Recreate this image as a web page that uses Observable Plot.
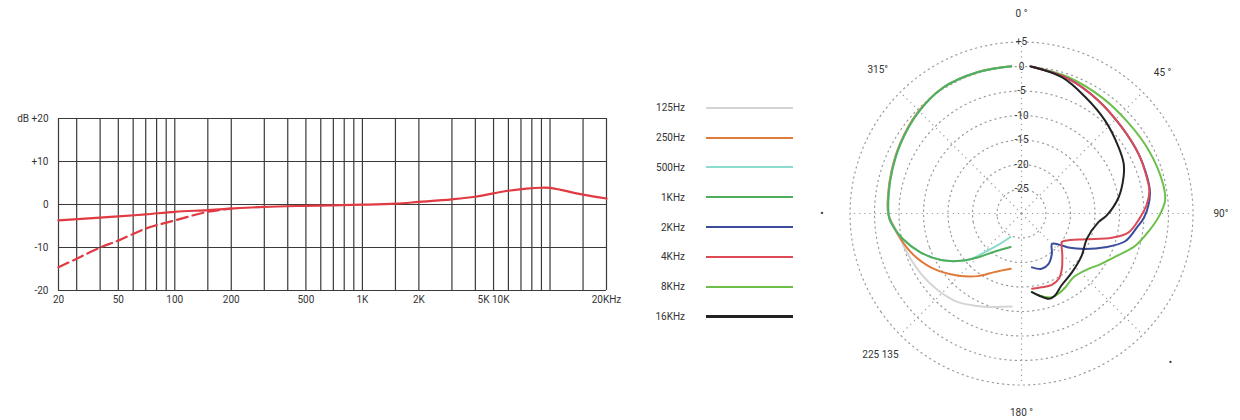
<!DOCTYPE html>
<html><head><meta charset="utf-8">
<script src="https://cdn.jsdelivr.net/npm/d3@7"></script>
<script src="https://cdn.jsdelivr.net/npm/@observablehq/plot@0.6"></script>
<style>
body{margin:0;background:#fff;}
#wrap{position:relative;width:1240px;height:420px;overflow:hidden;font-family:Roboto,sans-serif;background:#fff;}
#left{position:absolute;left:0;top:0;}
#legend{position:absolute;left:630px;top:93px;}
.row{display:flex;align-items:center;height:29.8px;}
.lab{width:55px;text-align:right;font-size:10px;color:#333;}
.sw{margin-left:21px;width:87px;}
#polar{position:absolute;left:814px;top:0;}
</style></head><body>
<div id="wrap"><div id="left"></div><div id="legend"></div><div id="polar"></div></div>
<script>
// ---------- Frequency response chart ----------
const freqTickValues = [24, 50, 100, 200, 500, 1000, 2000, 5000, 20000];
const freqTickLabels = ["20","50","100","200","500","1K","2K","5K 10K","20KHz"];
const freqGrid = [24,30,40,50,60,70,80,90,100,150,200,300,400,500,600,700,800,900,1000,1500,2000,3000,4000,5000,6000,7000,8000,9000,10000,15000,20000];
const dbTickValues = [20,10,0,-10,-20];
const dbTickLabels = ["dB +20","+10","0","-10","-20"];
const solidFreq = [24,40,50,70,100,150,200,300,500,1000,1500,2000,3000,4000,5000,6000,7500,9000,10000,11400,15000,20000];
const solidDb = [-3.7,-3.05,-2.75,-2.3,-1.7,-1.3,-0.95,-0.55,-0.3,-0.05,0.2,0.6,1.2,1.8,2.6,3.2,3.7,3.9,3.85,3.4,2.3,1.4];
const dashedFreq = [24,30,40,50,70,100,150,200];
const dashedDb = [-14.6,-12.6,-10,-8.4,-5.6,-3.7,-1.7,-0.95];

// ---------- Polar pattern ----------
const seriesNames = ["125Hz","250Hz","500Hz","1KHz","2KHz","4KHz","8KHz","16KHz"];
const seriesColors = ["#d4d4d4","#e07a3a","#8adccc","#4fae5c","#3b4c9c","#dc4b55","#6cc04a","#222222"];
const legendWidths = [1.3,2.2,2,2,2.2,1.3,2.2,2.4];

const a125 = [356,343,328,314,300,288,278,269,262,250,239,228,216,202,186];
const d125 = [0.1,0.2,0.25,-0.5,-1.5,-2.2,-2.6,-3.0,-4.3,-5.4,-6.1,-6.8,-7.7,-9.5,-10.9];
const a250 = [356,343,328,314,300,288,278,270,261,249,238,226,215,205,191];
const d250 = [0.1,0.2,0.25,-0.45,-1.4,-2.1,-2.5,-2.8,-4.3,-6.4,-8.8,-11.8,-14.4,-16.8,-18.5];
const a500 = [356,343,328,314,300,288,278,269,266,258,249,240,232,228,221,215,205];
const d500 = [0.14,0.2,0.27,-0.55,-1.5,-2.2,-2.6,-2.9,-3.3,-5.2,-7.9,-11,-14.3,-16.1,-20.4,-22.5,-24.7];
const a1k = [356,343,328,314,300,288,278,269,266,258,249,240,232,225,216,198];
const d1k = [0.14,0.2,0.27,-0.55,-1.5,-2.2,-2.6,-2.9,-3.3,-5.2,-7.9,-11,-14.3,-17.3,-20.3,-22.8];
const a2k = [4,19,34,49,63,74,80,86,92,97,105,112,119,126,130,135,143,152,160,169];
const d2k = [0,-0.9,-2.1,-3.0,-3.2,-3.3,-3.4,-4.0,-5.0,-6.3,-8.1,-11.6,-15.1,-18.2,-20.2,-21.2,-19.7,-18.3,-18,-18.8];
const a4k = [4,19,34,49,63,74,80,86,92,100,105,112,122,125,136,144,150,157,165,172];
const d4k = [0,-0.9,-2.1,-3.0,-3.2,-3.4,-3.5,-4.4,-5.8,-7.8,-10.9,-16,-19.5,-19.9,-18,-16,-14.7,-14.2,-14.4,-14.5];
const a8k = [4,19,35,50,64,78,85,91,98,106,113,122,132,141,149,155,160,168,172.5];
const d8k = [0,-0.6,-1.2,-1.4,-1.0,-0.5,-0.6,-1.9,-3.8,-5.9,-8.4,-10.7,-12.6,-13.2,-12.5,-12,-11.8,-12.9,-13.9];
const a16k = [3.4,16.5,28.7,42,55.6,64,70.4,80.5,91.3,96.4,111,125,139,151,158,162,168,172.5];
const d16k = [0.1,-1,-2.9,-4.5,-6.0,-6.8,-7.9,-9.9,-12.6,-14.2,-15.7,-15,-14.2,-13.2,-11.9,-11.7,-12.9,-13.8];

const ringDb = [-25,-20,-15,-10,-5,0,5];
const ringLabels = ["-25","-20","-15","-10","-5","0","+5"];
const spokeAngles = [0,45,90,135,180,225,270,315];
const angleLabelAngles = [0,45,90,135,180,225,270,315];
const angleLabelTexts = ["0 °","45 °","90°","•","180 °","225 135","•","315°"];
const angleLabelDbs = [10.7,10.7,10.7,13,10.7,10.7,10.7,11.5];
const centerDb = -30;      // dB at the pole
const outerDb = 5;

// ---------- build left chart ----------
const fmtX = new Map(freqTickValues.map((v,i)=>[v,freqTickLabels[i]]));
const fmtY = new Map(dbTickValues.map((v,i)=>[v,dbTickLabels[i]]));
const solid = solidFreq.map((f,i)=>({f, db: solidDb[i]}));
const dashed = dashedFreq.map((f,i)=>({f, db: dashedDb[i]}));
const red = "#e03a42";
const gridColor = "#3a3a3a";

const left = Plot.plot({
  width: 630, height: 420,
  marginLeft: 58, marginRight: 24, marginTop: 118, marginBottom: 130,
  style: {fontFamily: "Roboto, sans-serif", fontSize: "10px", color: "#333", background: "transparent"},
  x: {type: "log", domain: [24, 20000], axis: null},
  y: {domain: [-20, 20], axis: null},
  marks: [
    Plot.ruleX(freqGrid, {stroke: gridColor, strokeWidth: 1.2}),
    Plot.ruleY(dbTickValues, {stroke: gridColor, strokeWidth: 1.2}),
    Plot.line(solid, {x: "f", y: "db", stroke: red, strokeWidth: 2.2, curve: "catmull-rom"}),
    Plot.line(dashed, {x: "f", y: "db", stroke: red, strokeWidth: 2.2, strokeDasharray: "11,5", curve: "catmull-rom"}),
    Plot.text(freqTickValues, {x: d => d, text: d => fmtX.get(d), frameAnchor: "bottom", dy: 12, fill: "#333", fontSize: 10}),
    Plot.text(dbTickValues, {y: d => d, text: d => fmtY.get(d), frameAnchor: "left", dx: -10, textAnchor: "end", fill: "#333", fontSize: 10})
  ]
});
document.getElementById("left").appendChild(left);

// ---------- legend ----------
const leg = document.getElementById("legend");
seriesNames.forEach((s,i)=>{
  const row = document.createElement("div"); row.className = "row";
  const lab = document.createElement("div"); lab.className = "lab"; lab.textContent = s;
  const sw = document.createElement("div"); sw.className = "sw";
  sw.style.height = legendWidths[i] + "px"; sw.style.background = seriesColors[i];
  row.appendChild(lab); row.appendChild(sw); leg.appendChild(row);
});

// ---------- polar chart ----------
const lon = a => 180 - a;
const lat = db => 90 - (db - centerDb);
const polarSets = [[a125,d125],[a250,d250],[a500,d500],[a1k,d1k],[a8k,d8k],[a2k,d2k],[a4k,d4k],[a16k,d16k]];
const polarOrder = ["125Hz","250Hz","500Hz","1KHz","8KHz","2KHz","4KHz","16KHz"];
const polarRows = [];
polarSets.forEach(([A,D],k)=>A.forEach((a,i)=>polarRows.push({series: polarOrder[k], a, db: D[i]})));
const rings = ringDb.map((db,i)=>({db, label: ringLabels[i]}));
const angLabels = angleLabelAngles.map((a,i)=>({a, t: angleLabelTexts[i], db: angleLabelDbs[i]}));

const polar = Plot.plot({
  width: 414, height: 420,
  marginTop: 6, marginBottom: 0, marginLeft: 0, marginRight: 0,
  style: {fontFamily: "Roboto, sans-serif", fontSize: "10px", color: "#333", background: "transparent"},
  projection: {
    type: "azimuthal-equidistant",
    rotate: [0, -90],
    domain: d3.geoCircle().center([0, 90]).radius(42.24)()
  },
  color: {domain: seriesNames, range: seriesColors},
  marks: [
    Plot.geo(rings, {geometry: d => d3.geoCircle().center([0, 90]).radius(d.db - centerDb)(), fill: "none", stroke: "#9a9a9a", strokeWidth: 1.2, strokeDasharray: "1.2,4"}),
    Plot.link(spokeAngles, {x1: a => lon(a), y1: 90, x2: a => lon(a), y2: lat(outerDb), stroke: "#9a9a9a", strokeWidth: 1.2, strokeDasharray: "1.2,4"}),
    Plot.line(polarRows, {x: d => lon(d.a), y: d => lat(d.db), z: "series", stroke: "series", strokeWidth: 2, curve: "catmull-rom"}),
    Plot.text(rings, {x: 180, y: d => lat(d.db), text: "label", fill: "#333", fontSize: 10}),
    Plot.text(angLabels, {x: d => lon(d.a), y: d => lat(d.db), text: "t", fill: "#333", fontSize: 10})
  ]
});
document.getElementById("polar").appendChild(polar);
</script></body></html>
